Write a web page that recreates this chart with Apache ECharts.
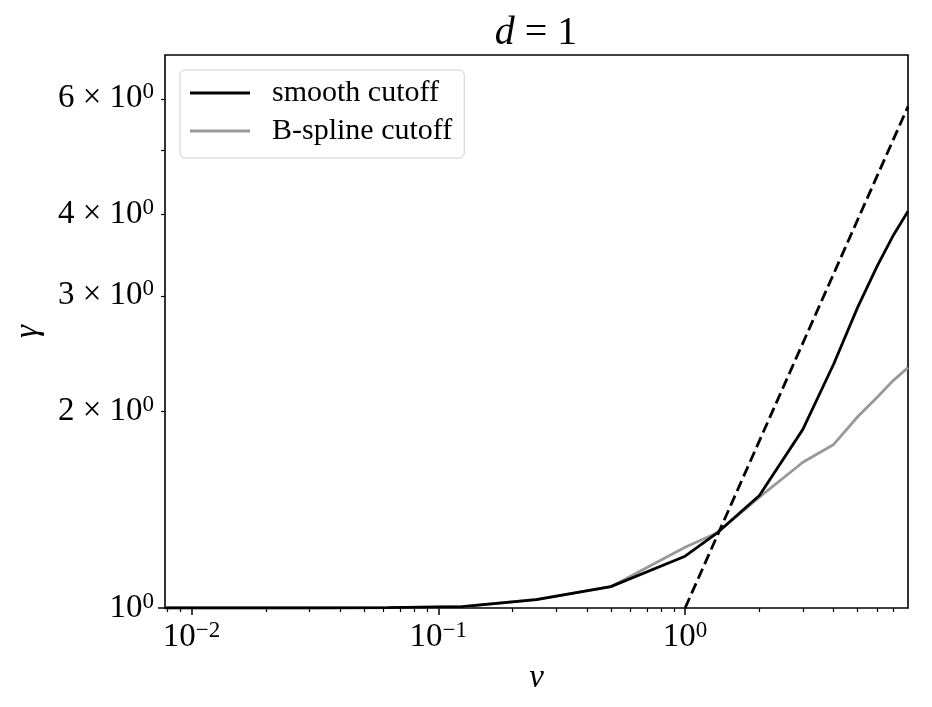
<!DOCTYPE html>
<html><head><meta charset="utf-8">
<script src="https://cdn.jsdelivr.net/npm/echarts@6/dist/echarts.min.js"></script>
<style>html,body{margin:0;padding:0;background:#fff}#c{width:932px;height:707px}</style>
</head><body><div id="c"></div>
<script>
// ---- data ----
const nu = [1/128, 1/64, 1/32, 1/16, 1/8, 1/4, 1/2, 1, 1.35, 2, 3, 4, 5, 6, 7, 8];
const smoothCutoff = [1, 1, 1, 1.001, 1.005, 1.03, 1.078, 1.20, 1.303, 1.486, 1.875, 2.36, 2.88, 3.33, 3.72, 4.04];
const bsplineCutoff = [1, 1, 1, 1.001, 1.005, 1.031, 1.078, 1.238, 1.303, 1.477, 1.67, 1.778, 1.96, 2.10, 2.23, 2.33];
const nuRef = [1, 8];
const gammaRef = [1, 5.84];
const xMajorTicks = [0.01, 0.1, 1];
const xMinorTicks = [0.008, 0.009, 0.02, 0.03, 0.04, 0.05, 0.06, 0.07, 0.08, 0.09,
  0.2, 0.3, 0.4, 0.5, 0.6, 0.7, 0.8, 0.9, 2, 3, 4, 5, 6, 7];
const yMajorTicks = [1];
const yMinorTicks = [2, 3, 4, 5, 6];
const yLabelValues = [1, 2, 3, 4, 6];
const xRange = [1/128, 8];
const yRange = [1, 7];

const FONT = '"Liberation Serif", "DejaVu Serif", serif';
const sup = {fontFamily: FONT, fontSize: 23, color: '#000', verticalAlign: 'top', lineHeight: 22};
const base = {fontFamily: FONT, fontSize: 33, color: '#000', lineHeight: 36};

function xLab(v) {
  const e = Math.round(Math.log10(v));
  return '{b|10}{s|' + (e < 0 ? '\u2212' + (-e) : e) + '}';
}
function yLab(v) {
  if (v === 1) return '{b|10}{s|0}';
  return '{b|' + v + ' \u00d7 10}{s|0}';
}
function zip(a, b) { return a.map((x, i) => [x, b[i]]); }

const chart = echarts.init(document.getElementById('c'), null, {renderer: 'canvas'});
chart.setOption({
  animation: false,
  backgroundColor: '#fff',
  grid: {left: 165, top: 55, width: 743, height: 553, show: true, outerBoundsMode: 'none',
    containLabel: false, borderColor: '#000', borderWidth: 1.6, backgroundColor: 'transparent'},
  graphic: [{
    type: 'text', x: 536, y: 33,
    style: {
      text: '{i|d} = 1', align: 'center', verticalAlign: 'middle',
      fontFamily: FONT, fontSize: 40, fill: '#000',
      rich: {i: {fontFamily: FONT, fontSize: 40, fontStyle: 'italic', color: '#000'}}
    }
  }],
  legend: {
    orient: 'vertical', left: 180, top: 70,
    padding: [8, 12, 12, 10],
    icon: 'rect', itemWidth: 60, itemHeight: 3, itemGap: 8,
    borderColor: '#d0d0d0', borderWidth: 1, borderRadius: 5,
    backgroundColor: 'rgba(255,255,255,0.8)',
    textStyle: {fontFamily: FONT, fontSize: 30, lineHeight: 30, color: '#000', padding: [0, 0, 0, 17]},
    data: ['smooth cutoff', 'B-spline cutoff']
  },
  xAxis: [{
    type: 'log', logBase: 10, min: xRange[0], max: xRange[1], gridIndex: 0,
    name: '\u03bd', nameLocation: 'middle', nameGap: 54,
    nameTextStyle: {fontFamily: FONT, fontSize: 33, fontStyle: 'italic', color: '#000'},
    axisLine: {show: false},
    axisTick: {show: true, inside: false, length: 7, lineStyle: {color: '#000', width: 1.5}, customValues: xMajorTicks},
    axisLabel: {show: true, margin: 11, customValues: xMajorTicks, formatter: xLab, rich: {b: base, s: sup}},
    splitLine: {show: false}, minorTick: {show: false}
  }, {
    type: 'log', logBase: 10, min: xRange[0], max: xRange[1], gridIndex: 0, position: 'bottom',
    axisLine: {show: false},
    axisTick: {show: true, inside: false, length: 4, lineStyle: {color: '#000', width: 1.2}, customValues: xMinorTicks},
    axisLabel: {show: false},
    splitLine: {show: false}
  }],
  yAxis: [{
    type: 'log', logBase: 10, min: yRange[0], max: yRange[1], gridIndex: 0,
    name: '\u03b3', nameLocation: 'middle', nameGap: 120, nameRotate: 90,
    nameTextStyle: {fontFamily: FONT, fontSize: 33, fontStyle: 'italic', color: '#000'},
    axisLine: {show: false},
    axisTick: {show: true, inside: false, length: 7, lineStyle: {color: '#000', width: 1.5}, customValues: yMajorTicks},
    axisLabel: {show: true, margin: 11, customValues: yLabelValues, formatter: yLab, rich: {b: base, s: sup}},
    splitLine: {show: false}, minorTick: {show: false}
  }, {
    type: 'log', logBase: 10, min: yRange[0], max: yRange[1], gridIndex: 0, position: 'left',
    axisLine: {show: false},
    axisTick: {show: true, inside: false, length: 4, lineStyle: {color: '#000', width: 1.2}, customValues: yMinorTicks},
    axisLabel: {show: false},
    splitLine: {show: false}
  }],
  series: [{
    name: 'smooth cutoff', type: 'line', data: zip(nu, smoothCutoff),
    symbol: 'none', lineStyle: {color: '#000', width: 2.8}, itemStyle: {color: '#000'}, z: 3
  }, {
    name: 'B-spline cutoff', type: 'line', data: zip(nu, bsplineCutoff),
    symbol: 'none', lineStyle: {color: '#999', width: 2.8}, itemStyle: {color: '#999'}, z: 2
  }, {
    name: 'reference', type: 'line', data: zip(nuRef, gammaRef),
    symbol: 'none', lineStyle: {color: '#000', width: 2.8, type: [11, 5]}, z: 4
  }]
});
</script></body></html>
